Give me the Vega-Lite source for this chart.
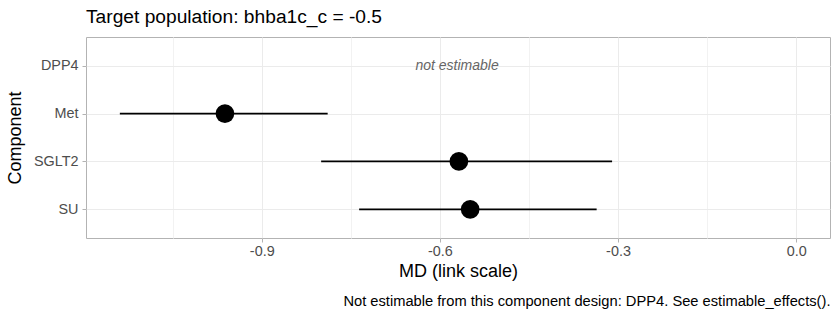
{
  "$schema": "https://vega.github.io/schema/vega-lite/v6.json",
  "padding": {"left": 5, "top": 7, "right": 10, "bottom": 4},
  "config": {
    "font": "Liberation Sans",
    "view": {"stroke": "#B3B3B3", "strokeWidth": 1},
    "axis": {
      "domain": false,
      "gridColor": "#EBEBEB",
      "tickColor": "#B3B3B3",
      "tickSize": 4,
      "labelFontSize": 14.4,
      "labelColor": "#4D4D4D",
      "titleFontSize": 18,
      "titleFontWeight": "normal",
      "titleColor": "#000000"
    }
  },
  "title": {
    "text": "Not estimable from this component design: DPP4. See estimable_effects().",
    "orient": "bottom",
    "anchor": "end",
    "fontSize": 14.7,
    "fontWeight": "normal",
    "color": "#000000",
    "offset": 13
  },
  "vconcat": [
    {
      "width": 744,
      "height": 201,
      "title": {
        "text": "Target population: bhba1c_c = -0.5",
        "anchor": "start",
        "frame": "group",
        "fontSize": 19.2,
        "fontWeight": "normal",
        "color": "#000000",
        "offset": 9.5
      },
      "encoding": {
        "y": {
          "field": "component",
          "type": "nominal",
          "title": "Component",
          "scale": {"type": "point", "domain": ["DPP4", "Met", "SGLT2", "SU"], "padding": 0.6},
          "axis": {"grid": true, "labelPadding": 4, "titlePadding": 9}
        }
      },
      "layer": [
        {
          "mark": {"type": "rule", "strokeDash": [5, 4], "color": "#808080", "strokeWidth": 1.3},
          "encoding": {
            "x": {
              "datum": 0,
              "type": "quantitative",
              "title": "MD (link scale)",
              "scale": {"domain": [-1.196, 0.057], "nice": false, "zero": false},
              "axis": {
                "values": [-1.05, -0.9, -0.75, -0.6, -0.45, -0.3, -0.15, 0],
                "grid": true,
                "labelExpr": "abs(datum.value / 0.3 - round(datum.value / 0.3)) < 0.01 ? (datum.value < -0.001 ? '-' : '') + format(abs(datum.value), '.1f') : ''",
                "tickColor": {
                  "condition": {"test": "abs(datum.value / 0.3 - round(datum.value / 0.3)) < 0.01", "value": "#B3B3B3"},
                  "value": "rgba(0,0,0,0)"
                },
                "gridColor": {
                  "condition": {"test": "abs(datum.value / 0.3 - round(datum.value / 0.3)) < 0.01", "value": "#EBEBEB"},
                  "value": "#F2F2F2"
                },
                "labelPadding": 2,
                "titlePadding": 5
              }
            },
            "y": null
          }
        },
        {
          "data": {
            "values": [
              {"component": "Met", "est": -0.962, "lo": -1.139, "hi": -0.789},
              {"component": "SGLT2", "est": -0.568, "lo": -0.800, "hi": -0.310},
              {"component": "SU", "est": -0.549, "lo": -0.736, "hi": -0.336}
            ]
          },
          "layer": [
            {
              "mark": {"type": "rule", "color": "#000000", "strokeWidth": 1.8},
              "encoding": {
                "x": {"field": "lo", "type": "quantitative", "title": "MD (link scale)"},
                "x2": {"field": "hi"}
              }
            },
            {
              "mark": {"type": "circle", "color": "#000000", "opacity": 1, "size": 350},
              "encoding": {
                "x": {"field": "est", "type": "quantitative", "title": "MD (link scale)"}
              }
            }
          ]
        },
        {
          "data": {"values": [{"component": "DPP4", "x": -0.571, "label": "not estimable"}]},
          "mark": {"type": "text", "fontStyle": "italic", "fontSize": 14, "color": "#666666"},
          "encoding": {
            "x": {"field": "x", "type": "quantitative", "title": "MD (link scale)"},
            "text": {"field": "label"}
          }
        }
      ]
    }
  ]
}
